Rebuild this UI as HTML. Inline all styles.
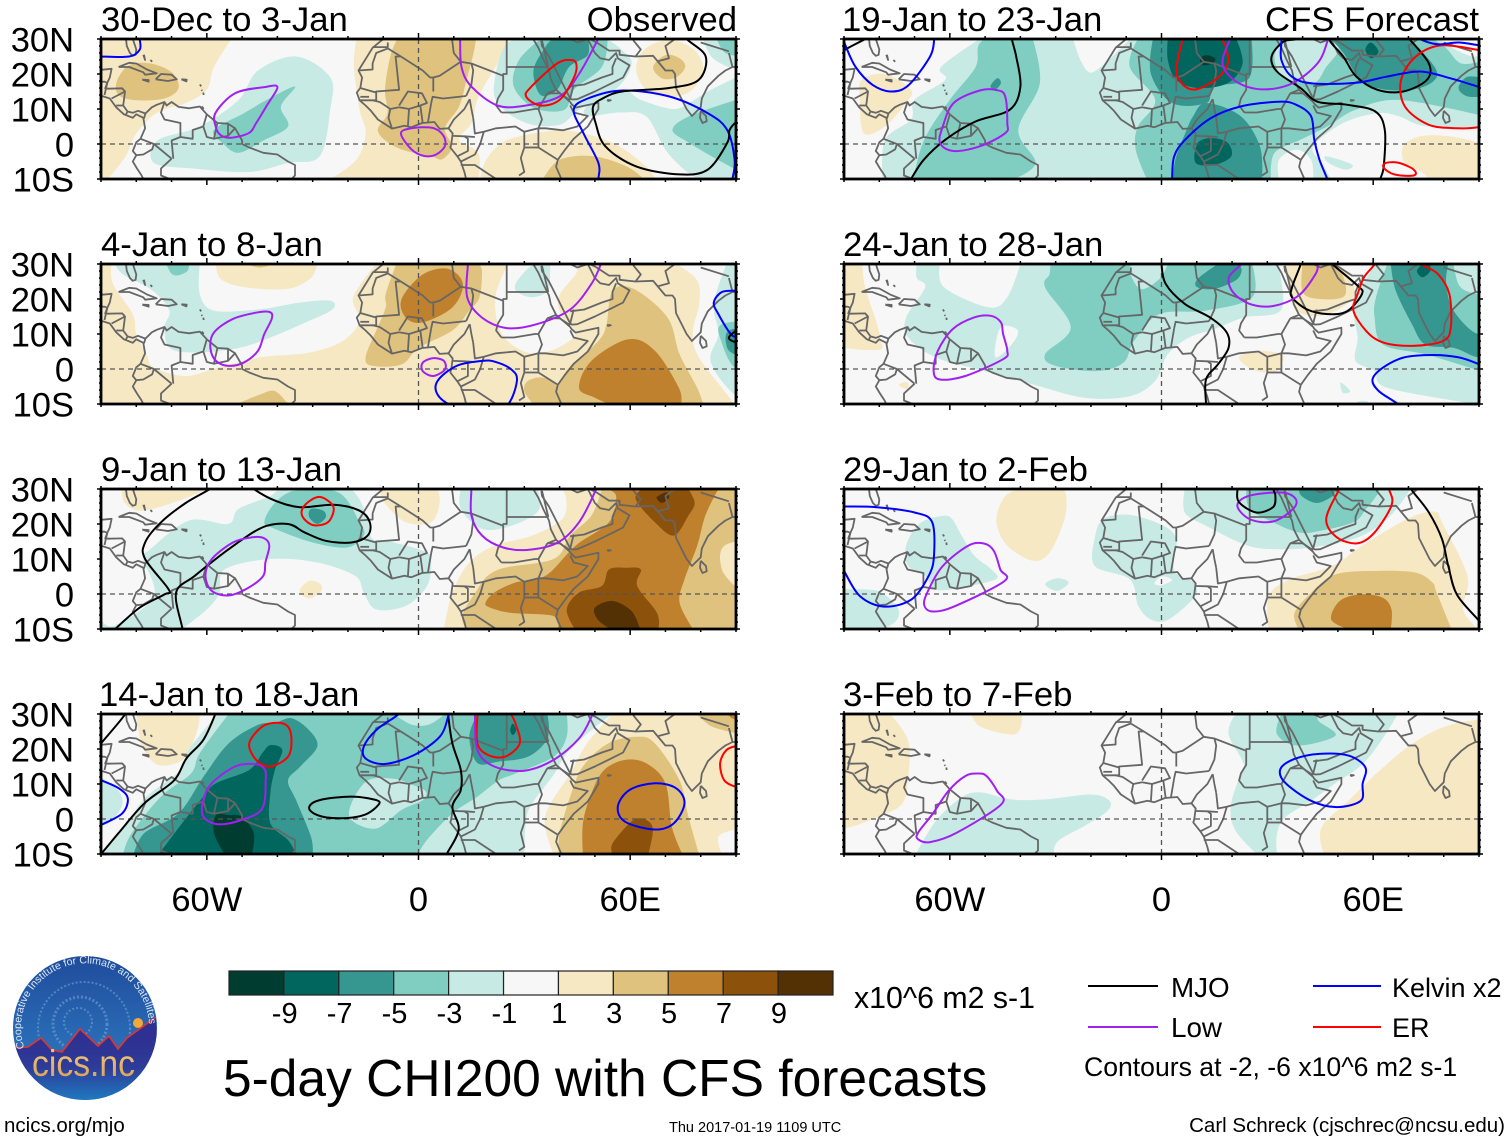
<!DOCTYPE html>
<html lang="en">
<head>
<meta charset="utf-8">
<title>5-day CHI200 with CFS forecasts</title>
<style>
html,body{margin:0;padding:0;background:#fff;}
svg{display:block;font-family:"Liberation Sans",sans-serif;}
text{fill:#000;}
</style>
</head>
<body>
<svg id="chart" xmlns="http://www.w3.org/2000/svg" width="1510" height="1142" viewBox="0 0 1510 1142">
  <defs>
    <linearGradient id="logoSky" x1="0" y1="0" x2="0" y2="1">
      <stop offset="0" stop-color="#1f4c9c"/><stop offset="0.6" stop-color="#2a6cb6"/><stop offset="1" stop-color="#1f7fc4"/>
    </linearGradient>
    <linearGradient id="logoLand" gradientUnits="userSpaceOnUse" x1="0" y1="1040" x2="0" y2="1100">
      <stop offset="0" stop-color="#2e3192"/><stop offset="0.45" stop-color="#2e3b98"/><stop offset="1" stop-color="#1f78bf"/>
    </linearGradient>
    <linearGradient id="logoText" x1="0" y1="0" x2="0" y2="1">
      <stop offset="0" stop-color="#f3d27e"/><stop offset="1" stop-color="#d99a55"/>
    </linearGradient>
    <clipPath id="logoClip"><circle cx="85" cy="1028" r="72"/></clipPath>
    <path id="logoArc" d="M 24.5 1048 A 64 64 0 1 1 149 1024"/>
  </defs>
  <rect x="0" y="0" width="1510" height="1142" fill="#fff"/>
  <g id="panels"></g>

  <g font-size="34.7">
    <text x="101" y="31">30-Dec to 3-Jan</text>
    <text x="737" y="31" text-anchor="end">Observed</text>
    <text x="101" y="256">4-Jan to 8-Jan</text>
    <text x="101" y="481">9-Jan to 13-Jan</text>
    <text x="99" y="706">14-Jan to 18-Jan</text>
    <text x="842" y="31">19-Jan to 23-Jan</text>
    <text x="1479" y="31" text-anchor="end">CFS Forecast</text>
    <text x="843" y="256">24-Jan to 28-Jan</text>
    <text x="843" y="481">29-Jan to 2-Feb</text>
    <text x="843" y="706">3-Feb to 7-Feb</text>
  </g>

  <g id="colorbar"></g>
  <text x="854" y="1008" font-size="30.3">x10^6 m2 s-1</text>

  <text x="223" y="1096" font-size="51.5">5-day CHI200 with CFS forecasts</text>

  <g font-size="27">
    <line x1="1088" x2="1158" y1="986" y2="986" stroke="#000" stroke-width="2"/>
    <text x="1171" y="997" font-size="27.8">MJO</text>
    <line x1="1088" x2="1158" y1="1027" y2="1027" stroke="#a020f0" stroke-width="2"/>
    <text x="1171" y="1037" font-size="27.8">Low</text>
    <line x1="1313" x2="1381" y1="986" y2="986" stroke="#0000ff" stroke-width="2"/>
    <text x="1392" y="997">Kelvin x2</text>
    <line x1="1313" x2="1381" y1="1027" y2="1027" stroke="#ff0000" stroke-width="2"/>
    <text x="1392" y="1037">ER</text>
    <text x="1084" y="1076" font-size="26.6">Contours at -2, -6 x10^6 m2 s-1</text>
  </g>

  <g>
    <circle cx="85" cy="1028" r="72" fill="url(#logoSky)"/>
    <g clip-path="url(#logoClip)">
      <g fill="none" stroke="#7ea6d8" stroke-opacity="0.55" stroke-dasharray="2 2">
        <circle cx="78" cy="1022" r="14" stroke-width="2"/>
        <circle cx="80" cy="1024" r="27" stroke-width="3"/>
        <circle cx="84" cy="1028" r="46" stroke-width="2"/>
      </g>
      <path d="M13 1048 L28 1047 L41 1038 L52 1050 L62 1052 L80 1029 L98 1046 L109 1036 L118 1049 L127 1038 L156 1017 L160 1110 L10 1110 Z" fill="url(#logoLand)"/>
      <path d="M13 1048 L28 1047 L41 1038 L52 1050 L62 1052 L80 1029 L98 1046 L109 1036 L118 1049 L127 1038 L156 1017" fill="none" stroke="#e2352b" stroke-width="1.6"/>
      <circle cx="138" cy="1023" r="5" fill="#f0a93a"/>
    </g>
    <text x="0" y="0" font-size="10.6" style="fill:#dbe6f5"><textPath href="#logoArc">Cooperative Institute for Climate and Satellites</textPath></text>
    <text x="32" y="1076" font-size="37" textLength="103" lengthAdjust="spacingAndGlyphs" style="fill:url(#logoText)">cics.nc</text>
  </g>

  <text x="4" y="1132" font-size="20.5">ncics.org/mjo</text>
  <text x="669" y="1132" font-size="14.5">Thu 2017-01-19 1109 UTC</text>
  <text x="1505" y="1132" font-size="20.5" text-anchor="end">Carl Schreck (cjschrec@ncsu.edu)</text>
</svg>

<script>
/* ---------- tick labels and colour-bar labels ---------- */
const latTicks = [30, 20, 10, 0, -10];
const latTickLabels = ['30N', '20N', '10N', '0', '10S'];
const lonTicks = [-60, 0, 60];
const lonTickLabels = ['60W', '0', '60E'];
const barLabels = ['-9', '-7', '-5', '-3', '-1', '1', '3', '5', '7', '9'];
const barLevels = [-10, -8, -6, -4, -2, 0, 2, 4, 6, 8, 10];

/* ---------- shaded CHI200 anomaly regions: [bin level, [lon,lat,...]] painted in order ---------- */
const fillsDec30 = [
  [2, [-52,35,-53,30,-58,22,-60,15.5,-66,11.7,-74,9,-80,3,-83,-3.5,-88,-10,-95,-15,-95,35]],
  [4, [-85.5,18,-82,22.5,-76,23,-70,20.5,-68,16,-72,13,-80,12.5,-85,14]],
  [-2, [-34.6,25,-25,19,-25,10,-28,-3.5,-37,-5.4,-48,-8,-64,-7,-75,-5.4,-74,1,-62,5,-51,12.6,-45.5,21]],
  [-4, [-35,16.4,-39,10.7,-37,5,-44,1,-51,-2.5,-55.6,.3,-58,4,-49.5,8.8,-43,12.6]],
  [2, [-17.6,30,-18.3,22,-16.7,9.8,-15,3,-17.6,-4.5,-25,-10,17,-10,17,-2.6,11.5,1.2,15,6,17,13.5,22.4,23,25.8,30]],
  [2, [22.4,-.7,27.8,2,41.4,3.9,55,.3,64.5,-6.4,67,-10,67,-15,17,-15,18.3,-6.4]],
  [4, [35.3,-10,40,-4.5,49.5,-3.5,59,-6.4,63.8,-10,60,-14,38,-14]],
  [4, [-6,30,-8,25,-9.5,15.5,-8.8,8.8,-11.5,3.6,-6,-1.1,3.4,-3.5,6.8,-4.3,9.5,-.7,7.5,4.5,11.5,10.7,13.6,18.3,15.6,25.9,16.3,30]],
  [2, [61.7,21,64,27,71,29.7,78,27,80.7,21,77,15,71,13.5,65,15]],
  [4, [66.5,22,70,25.4,74,24.5,75.6,22,73,19,69,18.8]],
  [-2, [25,28.7,21.7,19,22.4,11.7,30.5,6,40,5.5,45.5,9.8,56.3,16,60.4,23,57.7,26.8,53.6,30,31.9,30]],
  [-4, [34.6,30,28.5,24,27,16.4,33,10.2,41.4,9.8,44,15.5,52,22,53.6,30]],
  [-6, [36,27.8,32.6,21,34.6,14,39.3,15.5,42.7,22,48,25.4,48,30,38,30]],
  [-2, [48,11,57.7,15.5,63,12.6,72,10,76.7,11.7,82,15,90,19,95,20,95,-15,79.4,-10,75.3,-7.3,70,-1.6,64.5,7.9,57,9,48,8]],
  [-4, [72,4,76.7,7.9,90,12.6,95,12,95,-10,84.8,-4.5,76.7,.3]],
  [-2, [80,35,80.7,30,83,25,88,22,95,21,95,35]],
  [-4, [84,35,84.5,30,87,26,92,25,95,25,95,35]]
];
const fillsJan4 = [
  [2, [-100,40,100,40,100,-20,-100,-20]],
  [0, [-87,30,-86.6,24.3,-81,15.7,-80,10,-77,4,-75,.4,-66,-2,-57,.4,-45,3.3,-31,4.7,-21.5,8,-16.7,13.8,-18.5,20.5,-12,30,-50,33]],
  [2, [-57.4,30,-56,25.7,-49,23.3,-37,22.9,-30.5,26,-28.7,30,-43,32]],
  [-2, [-80,32,-62,30,-62,21.4,-58,16.7,-45.5,17,-33.5,19,-25,19.5,-24.4,17,-32,13.3,-42,9,-51,6,-63,4.7,-70.5,6,-72,12,-70.6,16.7,-75.4,22.4,-83.7,27,-86,30]],
  [-4, [-71.5,30,-70,27.2,-68,26.8,-65.5,28,-65,30,-68,31]],
  [4, [-6.3,30,-9.3,21.4,-9.3,17.6,-12,11,-15,3.3,-13,.9,-4.8,1.3,0,6,9.6,11,14.4,16.7,17.3,20.5,18,28,17,30,5,32]],
  [6, [1.2,27,-4.8,20,-3.6,14.7,1.2,13.3,9.6,17.6,12.6,24.3,8.4,28.6]],
  [0, [25.4,30,21.8,20.5,23.6,10,31,4.7,38.5,5.6,44.5,10,40.8,14.7,39.7,20.5,44.5,27,45.5,30,35,32]],
  [-2, [27.5,24.3,30,27.7,32.5,30,37.3,30,37.3,27,36.7,22.4,32.3,20.5,28,22]],
  [0, [73.1,30,79,25.3,79.6,18.6,77.8,11,79,4.2,86,-5.4,89.7,-10,97,-14,97,33,80,33]],
  [-2, [87.3,30,83.7,18.6,85,10,82.8,2.3,88.5,-6.3,97,-12,97,33]],
  [-4, [86,12.8,85.8,8,89.7,.4,97,0,97,14]],
  [-6, [88,11,87.5,6,90,4,97,5,97,12]],
  [4, [-49,30,-45,29,-41,30,-45,31]],
  [4, [-51.4,-10,-45,-7.3,-40.7,-6.3,-37,-10,-44,-12]],
  [4, [55,22.4,61,22.9,70.6,14.7,74,4.2,79,-5.4,80.7,-10,60,-14,39.7,-10,39.5,-5.4,42.7,.4,51,8,53.3,12.8]],
  [6, [59.5,8.5,49,2.3,45.5,-5.4,50,-8.2,54,-10,74.4,-10,73.8,-5.4,67,5.2]],
  [4, [31,-3.4,30,-6.3,32.5,-10,39.7,-10,40,-5.8,35.5,-2.5]]
];
const fillsJan9 = [
  [2, [-84,30,-83.3,26,-78,23.8,-67,27,-60,30,-72,33]],
  [-2, [-76,12.8,-65,21,-54,20,-51,24.3,-42,28,-40,30,-19,30,-16.7,27,-14.4,21.4,-13,15.7,-7,14.7,2.4,11.9,3.6,9,2.4,2.3,-3.6,-3.4,-12,-4.4,-15.5,.4,-18,5.2,-28.7,9,-42,10,-55,7,-56.4,.4,-60,-4.4,-67,-10,-90,-10,-90,-7.3,-86,-9,-75,-.6,-78,10]],
  [-4, [-43.7,20.5,-40.7,26,-34.7,29.6,-22.7,29,-16.7,20.5,-15.5,16.7,-20.3,13.3,-30,14.7,-40.7,18.6]],
  [-6, [-30.5,24.3,-31,22,-28.7,20,-26.3,21.9,-27,23.8]],
  [2, [-31,3.7,-33.7,.9,-31,-1.3,-27.5,.9,-28,3]],
  [2, [-10.8,30,-9.6,26,-3.6,20.5,3.6,20.5,6,26,5.4,30,-3,32]],
  [-2, [12,30,12,24.3,18,18.6,26.3,19.5,34,23.8,33.7,30,22,33]],
  [2, [7.2,-10,9.6,.4,14.4,9,21.5,13.8,32.3,16.7,40.7,21.4,41.9,27,40.7,30,60,36,97,36,97,-15,30,-15]],
  [4, [13,-9,16.7,1.3,22.7,7,38.3,10,43,16.7,49,22.4,52,30,70,36,97,36,97,-15,30,-15]],
  [2, [86.7,13.8,86,7,90,2,97,2,97,16]],
  [6, [19,-2.5,21.5,.4,27.5,3.3,36,5.2,44.5,13.8,54,20.5,56,28,53,30,70,33,85,30,81.3,22.4,79,13.8,75.4,4.2,74,-2.5,77.8,-10,60,-13,39.5,-10,38.3,-6.3,26.3,-5.4,20.3,-3.9]],
  [8, [59,7.5,54,7,52,2.3,45.5,.4,42,-4.4,44.3,-10,56,-13,68,-10,67.6,-5.4,62,2.3,63,7]],
  [8, [63.4,30,61.6,27,67,20.5,72.4,16.7,76.5,22.4,78.3,26,76.5,30,70,32]],
  [10, [55,-2,50,-3.9,50.8,-7.3,54.4,-10,62.8,-10,60.4,-4.9]],
  [10, [69,28.6,67.5,27.5,69,26,71,27.5,70.5,29]]
];
const fillsJan14 = [
  [2, [-80,30,-79.5,26,-78,20,-74,15.5,-68,16.2,-65,19.5,-62.5,26,-62,30,-70,33]],
  [-2, [-90,12,-85,8,-84,4,-87,-.5,-90,-2,-97,-2,-97,12]],
  [-2, [-57,35,-57,30,-65,20,-68,13.5,-77,6.5,-82,0,-90,-10,-95,-15,30,-15,30,-10,30.5,-.3,32.3,4.5,38.3,12.6,42,18.8,49,25.4,55,30,55,36]],
  [-4, [-53.8,30,-62,18.8,-64.5,13,-73,6.4,-81.3,-4,-83.7,-10,-50,-14,0,-10,2.4,-6,9.6,1.6,16.7,6.4,22.7,11,27.5,13,38.3,17.8,42,23.5,42,30,0,35]],
  [-2, [-14.4,11,-19,4.5,-19,-.3,-12,-2.7,-4.8,2.6,1.2,5.4,2,8,-2.4,10,-7,11.5]],
  [-2, [-7,30,-2,27,3,27,7.5,30,0,32]],
  [-6, [-40.5,27.5,-45.5,26.9,-53.8,21.6,-61,12,-68,1.6,-77.7,-4,-80.7,-10,-55,-14,-30,-10,-30.5,-5,-34.7,5.4,-37,11,-33.5,15,-28.7,20.7,-31,25.4,-36,28.8]],
  [-8, [-42,21.1,-44.3,18.8,-48,14,-57.4,10.2,-61,6.4,-67,-1.2,-73.6,-10,-55,-14,-34.7,-10,-37,-6,-42,-1.2,-42,7.3,-40.7,14,-38.6,19.7]],
  [-10, [-53.8,1.1,-57.4,1.1,-58,-4,-55,-10,-50,-13,-47.2,-10,-46.7,-4,-50.2,.7]],
  [-6, [16.7,30,14.4,23.5,16.7,16,22.7,16.4,31,17.8,36,22,37,26,36.5,30,26,33]],
  [-8, [26.7,27.3,26,25.4,26.7,24,27.7,25.4]],
  [2, [55,30,47.8,21.6,43,13,35.9,.7,38.3,-10,60,-15,86,-10,85,-5,90,-3,97,-3,97,36,60,36]],
  [4, [79,30,83,26.5,90,24.5,97,24,97,36,80,36]],
  [6, [87.5,31,88.5,29,92,27.7,97,28,97,33]],
  [4, [62,23.5,53.8,21.6,46.6,15,43,6.4,40,-4,39.7,-10,60,-14,79.5,-10,76.5,.7,74,11,67,21.6]],
  [6, [58.6,16.9,52.6,14,49,7.3,46.6,-1.2,46.6,-10,60,-13,74.8,-10,71.8,-2.2,70,10.2,64.6,15.9]],
  [8, [62.8,.2,59.8,-1.2,55,-7,55,-10,60,-12,65.2,-10,66.4,-4,65.8,-1.2]]
];
const fillsJan19 = [
  [-2, [-51.6,30,-62.5,22,-61.3,18.3,-70,12.6,-71,7,-78.4,1.2,-79,-10,-80,-16,97,-16,97,36,-50,36]],
  [0, [-25,30,-23,24,-20,20.4,-15,24,-9,30,-17,33]],
  [0, [61.2,8.8,51.5,6,43,-.7,45.5,-5.4,48,-10,70,-16,97,-14,97,5,75.7,5,67.3,7.9]],
  [-2, [46.7,-3.5,54,-5.9,52,-7.3,47.3,-5.4]],
  [0, [33.3,-4.5,38.2,-1.6,42.4,-4.5,43,-10,38,-13,33.3,-10]],
  [0, [38,25,36,21.5,42,21.5,44,24.5,41,26.5]],
  [0, [79.4,29.7,88,25,92,27,90,30,84,32]],
  [-4, [-51.6,28.7,-52.7,22,-60,12.6,-67.3,1.2,-70.3,-10,-55,-15,-41.8,-10,-35.7,-5.4,-40.6,4,-34.5,17.3,-36.5,30,-45,33]],
  [-4, [-6.7,30,-9,22,-1.8,12.6,-6.7,5,-7.3,-1.6,-4.2,-10,10,-15,31,-10,32,-2.6,39.4,1.2,47,5,55,9.8,67.3,12.6,90,8.3,97,8,97,22,92,24,85,23,80,28,72,33,40,34,10,34]],
  [-2, [34.5,30,32,25,34.5,19.3,43,17.4,46.7,22,50.3,27,47.9,30,40,33]],
  [-6, [-2.4,30,-3,20,3,11.7,12.7,11.7,15,16.4,24.8,18.8,25.5,30,10,33]],
  [-6, [12.7,11.7,22.4,8,27.9,-.7,28.5,-10,15,-14,3,-10,4.2,-3.5,6.7,3,9,8]],
  [-8, [1.8,30,1.8,24,4.2,18.3,10.3,16,18.8,17.4,23,23,21.2,30,10,33]],
  [-10, [11,24.5,12.7,25.4,15.2,24.5,14.5,23,11.6,22.6]],
  [-8, [14.5,1.7,10.3,.3,9.7,-5.4,15.2,-5.9,19.8,-3.5,18.8,.3]],
  [-6, [47.9,30,51.6,26,56.4,18.3,63.6,15.5,73.3,16,78.2,20,73.3,27,69.7,30,58,33]],
  [-8, [59.4,29,57.8,27,59.4,24.5,61.5,26.4]],
  [-6, [86.7,19.2,84.2,16,86.7,13.6,91.5,13.6,91.5,18.8]],
  [-6, [-46.6,18.8,-48.5,16.5,-47,15.6,-45.5,17.5]],
  [2, [-85,18.3,-78.4,20,-71,15.5,-72.5,11.7,-78.4,5,-84.4,3.1,-85.5,12.6]],
  [2, [68.5,-.7,73.3,2.2,81.8,2.2,90.3,.3,97,0,97,-15,80,-14,74,-8.2,69,-5.4]]
];
const fillsJan24 = [
  [2, [-97,36,-84.8,36,-84.8,30,-84,23.3,-81,14,-79.5,8,-79.5,5.6,-85,5.5,-90,6,-97,6]],
  [-2, [-69.4,30,-69.4,26,-67,23.3,-72.4,14.7,-71.8,9,-64,3.3,-52,-.1,-36.5,-4.4,-22,-8.2,-9,-7.8,-1.8,-3.4,1.8,4.2,7.8,9,15,11.4,23.3,14.7,34,17,33,30,0,34,-40,34]],
  [0, [-62.8,30,-61.6,23.3,-49,17.6,-43.7,20.5,-40,30,-50,33]],
  [0, [-44.9,12.3,-46.7,9,-47,3.3,-42.5,7,-40.7,11]],
  [-4, [-31.7,27.2,-33,23.3,-25.7,11.9,-33,4.2,-30,.9,-18.5,-.6,-10.8,1.8,-7.8,8,-.6,15.7,12.6,16.7,25.7,20.5,25.7,30,0,34,-31.5,32]],
  [-2, [-9,29,-6,22.9,-.6,25.7,1.8,30,-4,32]],
  [-6, [10.2,25.7,10.2,23.3,15,22.9,21,25.3,22.7,28,22,30,16,30]],
  [2, [35.3,30,36.5,20.5,40,15.7,47.2,15.7,54.4,20.5,53,27,47.2,30,40,33]],
  [2, [22,3.3,27,5.2,34,4.2,34,1.3,31.7,-1,25.7,-.1]],
  [4, [40,30,40,22,44.9,20,52,21,50.8,28,47,30,43,32]],
  [2, [-74.5,-4.5,-72,-3.8,-72,-5.8]],
  [-2, [60.4,30,56.8,23.3,54.4,16.7,55.6,9,55,2.3,60.4,-.6,64,-5.4,89,-10,97,-11,97,36,60,36]],
  [-4, [64,30,60.8,20.5,60.4,14.7,62.8,7,74.8,4.2,89,-.1,97,-2,97,36,64,36]],
  [-2, [82,36,84.3,24,90.3,21.4,97,21,97,36]],
  [-6, [65,30,66.4,22.4,71,12.8,74.8,7,83,6,89.7,3.3,97,3,97,12,89.7,10,82.8,16.7,80.7,24.3,81.3,30,72,33]],
  [-8, [74,30,72.4,28,74,26.2,76.2,28,76,30,75,31]],
  [-2, [50.8,-3.9,53.5,-6.3,51.4,-6.8]],
  [-2, [55.5,-9.3,58.5,-9.3,57,-11]]
];
const fillsJan29 = [
  [2, [-41.6,29.6,-45,27,-46.8,20.5,-43.7,13.8,-36.5,9.5,-31.7,11.9,-27.5,21.4,-27,28,-28,30,-35,32]],
  [-2, [-62.8,22.2,-68.7,20,-72.4,13.8,-71.8,8,-67,5.2,-64.2,1.3,-57,1.8,-47,4.2,-48.2,7,-53,10.9,-56.6,16.6,-59.6,21.7]],
  [-2, [-97,1.3,-83.4,1.3,-78.6,-.1,-74.4,-4.9,-77.4,-9.2,-90,-12,-97,-12]],
  [-2, [-33,2.8,-29.5,4.5,-26.3,3.3,-29.5,.9]],
  [-2, [-18.9,16,-16.5,21.4,-9,22.6,.6,19.5,4.2,15.7,3.5,10,4,6,9,3.3,9.5,-.6,2,-7.3,-3,-7.3,-6.6,-3.4,-9,4.2,-18.9,8]],
  [0, [0,5,-2,3,0,2.5,3,4]],
  [-2, [6.6,30,6.6,23.3,12.6,19.5,24.5,13.8,34,12.8,42.4,13.3,54.4,15.7,63,20.5,70,29,70,32,30,33]],
  [-4, [24,30,25,24.3,31.6,20.5,38.8,17.6,44.8,18,54.4,20.5,58,24.3,61.5,29,61,31,40,33]],
  [-6, [39,30,39.7,28,44,26,48.5,28,49,30,44,32]],
  [2, [74.8,23.3,68.8,21,56.8,13.8,48.4,8,36.4,4.2,30.4,-.6,30.4,-10,60,-15,89.7,-10,85.5,-4.4,86.7,5.2,79.5,20.5,78.3,23.3]],
  [4, [61.5,6.6,49.3,5.6,42.5,.4,37.7,-5.4,38.9,-10,60,-14,82.2,-10,78,.4,76.8,3.3,72,6.1]],
  [6, [56.5,-.1,50.5,-2,48.1,-7.3,52.9,-10,60,-12,65,-10,65.2,-4.4,62.6,-1]]
];
const fillsFeb3 = [
  [2, [-97,36,-77,36,-77,30,-71.8,22.4,-71.8,11.9,-73.6,4.2,-81,.4,-89,-2.5,-97,-3]],
  [2, [-54,30,-51,26.2,-41.3,24.3,-39.5,30,-46,33]],
  [-2, [-51.4,7.6,-56.8,6.1,-64,-.6,-69.6,-10,-50,-15,-30.5,-10,-29.3,-6.3,-21,-1.5,-15.3,2.3,-14.7,5.2,-20,7,-33,5.6,-42.6,5.6]],
  [-2, [21,30,19,24.3,23.3,15.7,22,11.9,19.6,3.3,21,-3.4,27,-10,30,-13,32.7,-10,32.7,-4.4,35,.4,42.4,5.2,49,10,58,16.7,66.4,29,66.4,32,40,33]],
  [-4, [34,30,32.7,24.3,38.5,21,49.3,23.8,44.5,28,44.5,30,39,32]],
  [2, [83,27.2,72.4,22.4,62.8,14.7,53,5.2,45.3,-2.5,46,-10,60,-15,97,-15,97,29]]
];

/* ---------- wave contours: [kind, closed, [lon,lat,...]] ---------- */
const linesDec30 = [
  ['low', 1, [-40,16.3,-44,16.2,-52,14.5,-57.5,9,-57.5,5,-56,2.5,-53,1.8,-48,3.2,-46,6,-43,11]],
  ['low', 1, [-5,3,-2,4.5,4,4.6,7,2.5,7.5,-.5,5,-3,1.5,-3.4,-2,-1.5]],
  ['low', 0, [11.8,33,11.8,30,12.2,22,15,16.4,22.4,11,30.5,11,40,13.6,45.5,20,50.9,30,52,33]],
  ['er', 1, [43.4,24,39.3,23,32,16.4,30.5,13.6,34.6,11,40,12.6,44,18.8,44.8,22.6]],
  ['kelvin', 0, [-93,25.3,-90,25,-82,25,-79,27,-79,30,-79,33]],
  ['kelvin', 0, [51,-13,51,-10,51,-5.4,46.8,3,44,9.8,48,13,57.7,15.3,71,13.6,82,8.8,87.5,4,89.6,-4.5,89,-10,88.5,-13]],
  ['mjo', 0, [74,33,76,30,81.4,25,79.4,18.3,71,16,57.7,15,52.2,13,49.5,10.7,50.2,6,53,-.7,61.7,-6.4,74,-8.7,82,-7.3,87.5,.3,88.2,4,90.2,6.4,93,8]]
];
const linesJan4 = [
  ['low', 1, [-42,16.2,-45.5,16.2,-52.6,14.3,-58,10.4,-59,6,-57.4,2.3,-53.8,.9,-49.6,1.8,-45.5,5.2,-43.7,10,-41.6,14.3]],
  ['low', 1, [4.2,3.1,1.2,1.8,1.2,-.6,4.2,-2,7.5,-.1,7.2,2.3]],
  ['low', 0, [14,33,14,30,13.8,20.5,18,14.7,25,11.7,33.5,12.8,43,17,49,24.3,51.7,30,52.5,33]],
  ['kelvin', 1, [18,2.3,10.8,.9,5.4,-3.4,5.4,-7.3,9.6,-10.5,18,-12.5,25,-10.5,27.9,-3.4,26.3,-.1,21.5,2.1]],
  ['kelvin', 0, [93,22.6,90.3,22.4,86,22,83.7,19,85,15.7,88.5,10,90.3,9,93,7]],
  ['mjo', 1, [90.5,11,88,9,89.7,7.8,92,9]]
];
const linesJan9 = [
  ['mjo', 0, [-88,-12,-86,-10,-79,-3.9,-72,-.1,-70.8,1.3,-77.5,10,-77.5,14.7,-73,20.5,-66,26,-59.2,30,-56,33]],
  ['mjo', 0, [-66.9,-13,-66.9,-10,-68.7,.4,-63.4,5.2,-53.8,12.8,-44.3,19,-37,20,-32.3,17.6,-26.3,15.2,-19,14.7,-14.4,16.7,-13.8,20.5,-16.7,23.8,-24,25.5,-33.5,24.8,-40.7,26.7,-46.7,30,-50,33]],
  ['er', 1, [-28.7,27.7,-32.3,25.3,-33,22.4,-30,19.7,-25.7,20.5,-24,24.3,-25.7,26.7]],
  ['low', 1, [-43.7,15.9,-47.2,16.2,-52.6,14.7,-58.6,10,-60.4,5.2,-58.6,.9,-53.8,-.4,-48.2,1.8,-44,5.2,-43.4,9,-42.3,13.7]],
  ['low', 0, [15,33,15,30,15,22.4,18,16.7,24,13.3,31,12.6,39.5,14.7,45.5,20.5,50.2,29.6,51,33]]
];
const linesJan14 = [
  ['mjo', 0, [-92,-12,-90,-10,-85,-4,-77.7,4.5,-69.3,11,-65.8,17.3,-61,22.6,-57.6,30,-57,33]],
  ['mjo', 0, [-93,18,-90,21.6,-84,28.8,-82,32]],
  ['mjo', 1, [-31,3.3,-28,5.4,-19,6.4,-12,5.4,-11.4,4,-15.5,1.1,-22.7,.2,-28.7,1.1]],
  ['mjo', 0, [8.4,33,8.4,30,9.6,21.6,12,14,12,8.3,9.6,3.5,11.4,-3,8,-10,6.5,-13]],
  ['er', 1, [-40,27.5,-44.3,26.4,-48,21.6,-46,16.9,-42,15,-37,17.8,-36,22.6,-37,26.4]],
  ['er', 0, [16.7,33,16.7,30,16.7,21.6,19.7,18.3,24.5,17.8,28.7,21.6,27.5,27.3,26.3,30,26,33]],
  ['er', 0, [93,22,90.5,21,87.3,19.7,85.5,15.9,86.7,11,90.3,9,93,8]],
  ['low', 1, [-46.4,15.7,-52,15,-58.6,10.2,-61,5.4,-61,.7,-56.8,-1.5,-50.2,-.3,-44.3,3,-43.3,11,-43.7,14.4]],
  ['low', 0, [16,33,16,30,16.7,19.7,21.5,15,30,13.8,38.3,16.9,45.5,23,49,29.2,50,33]],
  ['kelvin', 0, [-93,12.5,-90,11.1,-85,8.8,-82.4,5.9,-84,1.6,-90,-1.7,-93,-3]],
  ['kelvin', 0, [-3,32,-6.6,29.2,-12,25.4,-15.5,20.7,-15,17.3,-9.6,15.7,-1.2,18.3,6,23.5,8.4,29.2,9,32]],
  ['kelvin', 1, [67,10.2,59.8,8.3,56.5,3.5,58.6,-.8,67,-3,72.4,-1.2,75.4,4.5,73,8.8]]
];
const linesJan19 = [
  ['mjo', 0, [-42.4,33,-42.4,30,-41.2,25,-40,16.4,-43,9.8,-52.8,6.4,-61.3,1.2,-67.4,-4.5,-71,-10,-73,-13]],
  ['mjo', 0, [-92,25,-89.6,27,-84,30,-81,32]],
  ['mjo', 0, [46,33,47.9,29.2,51.5,25,55.2,19.3,61.2,15.5,68.5,15,75.2,18.3,75.8,23,70.3,30,68,33]],
  ['mjo', 0, [42,32,38.2,30,34.5,29.2,31.2,25,32.7,20.7,39.4,16,44.2,12.1,52.7,11.2,60.6,9.3,63.3,4,63,-6.3,62,-10,61,-13]],
  ['er', 0, [6.5,33,6,30,4.8,25,4.2,20.2,6.7,16.4,10.3,15.7,15.8,18.8,18.8,23,18.2,27.8,17,30,16.5,33]],
  ['er', 0, [93,26.5,90.3,26.8,79.4,28.2,72.1,25,67.9,18.3,69,10.7,75.8,5.5,84.2,4.5,90.3,4.8,93,5]],
  ['er', 1, [63.6,-5.4,63,-6.8,66,-8.7,71.5,-9,71.5,-7.3,67.3,-5.4]],
  ['low', 1, [-46.7,15.4,-51.5,15.3,-58.9,11.7,-62,5,-62.8,.3,-59,-2,-51.6,-.7,-44.3,3.1,-43.7,6,-44.3,13.6]],
  ['low', 0, [20,33,19.4,30,17.3,23,21.2,17.8,28.5,15.6,37,17.3,44.2,23,47,29.2,48,33]],
  ['kelvin', 0, [-91,32,-89.6,28.2,-86.7,22,-81.9,16.9,-76.5,15,-71.6,16.9,-65.6,25,-64.4,30,-64,33]],
  ['kelvin', 0, [34.5,33,34,29,34,24,37,19.2,43,17.3,55.2,17.5,63.6,19.2,73.3,20.7,81.8,18.8,90.3,16.2,93,15.5]],
  ['kelvin', 0, [3,-13,3,-10,3.6,-3.5,6.7,1.2,14,7.4,22.4,10.7,33.3,12.1,38.2,11.2,42.4,7.9,43.3,1.2,44.8,-4.5,47,-10,48,-13]],
  ['kelvin', 0, [72,32,73.3,30,78.2,28.5,84.2,29,90,28.2,93,28]]
];
const linesJan24 = [
  ['mjo', 0, [0,33,0,30,1.2,24.3,6.6,18.6,13.8,14.7,18.5,10.4,19,6,16,1.3,12.6,-3,12.6,-10,12.6,-13]],
  ['mjo', 0, [40,33,39.5,30,37,23.3,37,20.5,41.3,17,47.2,15.7,52.6,16.5,56.8,21.4,55.6,23.8,48.4,30,46,33]],
  ['er', 0, [62,33,60.4,29.9,57.4,26.2,55.6,21.4,54.4,16.7,58,10.9,62.8,7.6,71.2,6.6,79.8,8,82,11.9,81.6,21.4,78.3,27.2,73.6,30,71,33]],
  ['low', 1, [-48.4,15.2,-53.2,14.7,-59.2,11.4,-63.4,5.2,-64.6,-.6,-62.8,-3,-55.6,-2,-44.9,2.8,-43.7,5.2,-44.9,10,-45.5,13.3]],
  ['low', 0, [25,33,22.7,30,19.1,26.2,20.3,21.9,25,18.6,31.7,18,38.9,21,43.7,27.2,44.3,30,44.5,33]],
  ['kelvin', 0, [70,-13,67,-10,61.6,-6.3,59.8,-3,62.8,.4,68.8,3.3,77.2,4,84.3,3.3,89.7,1.5,93,0]]
];
const linesJan29 = [
  ['kelvin', 0, [-93,25,-89.7,25,-80.7,24.8,-70,23.3,-65,20.5,-64.5,10.9,-66,5.2,-70.8,-1.5,-78.6,-3.6,-85.5,-.6,-90,6.6,-92,10]],
  ['low', 1, [-50.2,14.4,-54.8,13.8,-62,8,-66,1.3,-67.3,-3,-64.8,-5,-58.4,-3.4,-44.5,3.7,-45.7,7,-47.5,12.3]],
  ['low', 1, [34,29,25,28.1,21.5,25.3,25,21.4,31.6,20.7,37.3,24.3,38,27.2]],
  ['mjo', 0, [21.5,33,21.5,30,22,26.2,26.9,23.3,31.6,24.8,32.3,28,31.7,30,31.5,33]],
  ['er', 0, [52,33,50.2,29.6,46.7,21.4,49.7,16.2,55.6,14.5,60.4,17.6,65.2,25.3,64.6,29.6,63,33]],
  ['mjo', 0, [69,33,71,29.6,75.8,23.3,79.5,15.7,81.3,8,83.7,-.1,89.7,-7.3,93,-11]]
];
const linesFeb3 = [
  ['low', 1, [-52,13,-55.6,12.3,-60.4,8,-65,1.3,-69,-3.9,-69,-5.8,-65.6,-6.6,-58,-3.9,-45.4,4.2,-46.6,8,-49.6,12.3]],
  ['kelvin', 1, [44.7,18.6,37.6,17.1,33.7,14.3,35,10.4,42.4,5.2,49.6,3.4,56.5,5.2,57,10,57.8,14.7,53,18.1]]
];

/* ---------- shared base map: coast and border polylines in lon,lat ---------- */
const coastlines = [
  [-82.9,30,-82.7,28,-81.8,26,-81,25.2,-80.2,25.5,-80,27,-81,30],
  [-90,21.2,-87,21.5,-87.5,19,-88.2,17.5,-88.8,15.9,-88,15.8,-84,15.9,-83.2,15,-83.5,12.5,-83.7,11,-82.5,9.3,-81,8.9,-79.5,9.5,-77.4,8.7,-75.6,10.5,-74.2,11.2,-72,12,-71.4,11,-70,12,-68,10.6,-65,10.2,-62,10.7,-60,8.5,-57,6,-54,5.8,-52,4.5,-50,1,-50,0,-48,-1,-44,-2.5,-40,-3,-37,-5,-35,-6,-35,-9,-36,-10],
  [-90,13.8,-87.5,13,-85.7,10.5,-83.5,8.5,-81,7.5,-80,8.5,-78,7.5,-77.5,4.5,-78.8,1.5,-80,.5,-81,-2,-80,-3.2,-81,-5,-79.8,-7,-78.5,-9,-78,-10],
  [-85,22,-82,23.2,-80,23,-77,21.3,-74.2,20.2,-77.5,19.8,-78,20.5,-82,22,-85,22],
  [-74.5,18.5,-73,20,-70,19.8,-68.5,18.5,-71,18,-74.5,18.5],
  [-78.3,18.4,-76.5,18.3,-76.5,17.8,-78.3,18.4],
  [-67.2,18.5,-65.7,18.4,-65.8,17.9,-67.2,18.5],
  [-78,25.5,-77.5,24,-77.8,25.5],[-76,24,-75.5,23.5],[-62,17,-61.6,16.5],[-61,14.7,-60.9,14],[-61.5,15.5,-61.3,15.2],[-61.5,10.7,-61,10.2,-61.3,10.6],
  [-10,30,-13,27.5,-17,21,-16,19,-16.5,16,-17.5,14.7,-16.7,12.5,-15,11,-13.5,9.5,-11.5,7,-7.5,4.4,-4,5.2,-2,4.8,1,6,4.5,6.3,6,4.3,8.5,4.5,9.7,3,9.3,0,9,-1,11,-3.5,12,-5,13,-8,13.5,-10],
  [32.5,30,34,27.5,35.5,24,37,21,37.5,18.5,39,15.5,43,12,43.3,11.5,44.5,10.4,51,11.8,51,10,48,5,44,1.5,41.5,-1.7,39.5,-4.5,39,-6.5,40.5,-10],
  [34.8,29.5,35,28,37,25,39,21,41,17,43,13,43.5,12.7,45,12.8,50,15,55,17.5,58,19,59.8,22.5,56.5,24.5,56,26,54,24,51.5,24.5,50,26,48,30],
  [48.5,30,50.5,29,54,26.7,57,26.7,57,25.5,61.5,25,66.5,25.2,67.5,24,70,21,72,21,72.7,20,73,16,74.5,13,76,10,77.5,8,78.5,9,80,10.5,80.3,13,82,16.5,85,19.5,87,21,89,22,90,22],
  [80,9.5,81.5,8,81.7,6.5,80.5,6,79.8,7.5,80,9.5],
  [53.5,12.6,54.5,12.5,53.8,12.3,53.5,12.6]
];
const borderlines = [
  [-72,12,-73,9,-72,7,-67.5,6,-67.5,2,-70,1,-69.5,-4.2],
  [-60,8.5,-61,5,-64,4,-64,1.5,-67.5,2],
  [-57,6,-58,1.5],[-61,5,-60,2,-58,1.5,-54,2.3,-52,4.5],[-54,5.8,-54,2.3],
  [-78.8,1.5,-75,0,-75.5,-1.5,-78,-3,-80,-3.2],[-75,0,-70,-4.2],[-70,-4.2,-73,-7,-73,-9,-70.5,-10],
  [-88.2,17.5,-89,14],[-90,17.8,-89,17.8,-88.2,17.5],[-83.2,15,-87,13],[-83.7,11,-85.7,11],[-82.5,9.3,-83,8.3],[-77.4,8.7,-77.8,7.3],
  [-13,27.7,-8.7,27.7,-8.7,29],[-17,21,-13,21.3,-13,23,-12,26,-8.7,27.3,-5,25],
  [-5,25,-6.5,25,-5.5,15.5,-12,15,-12.3,14.8,-16.5,16],[-5,25,1.2,21,3.3,19,4.2,19,4.2,15],
  [4.2,19,6,19.5,12,23.5,15,23,15.5,21,15,17,13.5,13.7],[25,30,25,22],[25,22,36.8,22],[25,22,25,20,24,20,24,19.5],[15,23,24,19.5],
  [24,19.5,24,15.5,22.5,13,22,11,23.5,9],[9.5,30,10,26,12,23.5],
  [3.6,11.7,4,13.5,7,13,13.5,13.7],[2.7,6.3,3.6,11.7],[8.5,4.5,10,7,13,10,14.5,12.8],[14.5,12.8,15,10,15.5,7.5],
  [15.5,7.5,16,3,18.5,3.5,22,4.5,27.5,5,30,3.5],[1.2,6,.5,11],[-3,5,-2.7,10],[-5.5,10.5,-2.7,10,.5,11,2.4,11.7,1,14.5,-3,15,-5.5,11],
  [-7.5,4.4,-8.5,7.5,-8,10],[-13,12.5,-11,12,-8,10,-5.5,10.5],[-16.7,12.5,-12,12.5,-12,15],[-16.5,13.5,-14,13.5],
  [23.5,9,27,9,33,10,34,10],[36.5,14.5,34,10],[39,15.5,36.5,14.5],[36.5,14.5,40,14.5,43,12.5],
  [34,4.5,36,4.5,41,3.9,45,5,48,8,44,9,43,11],[34,4.5,34,0,34,-1,39.5,-4.5],[30,-1,34,-1],[30,3.5,30,-1,29,-4,30,-8,28.5,-9],[34,10,35,7,34,4.5],[30,3.5,34,4.5],
  [12,-5,13,-4.5,16,-3,17.5,0,18.5,3.5],[9.8,2.3,13,2.2,14,1.5,14,-2,11,-3.5],[16,2,13,2.2],[12,-6,16,-6,22,-10],
  [40.5,-10.5,35,-11],[43,16.5,47,17,52,19,55,20,55,22,56,24.5],[48,30,45,29,41,31],[61.5,25,63,27,61,29.5,60.5,31],[68,23.7,71,24.5,70,28,74,31],[80,29,88,26.5],[88,26,89,22],
  [36.8,22,35,29.5],[43,13,44,17]
];

/* ---------- axis functions ---------- */
const PANEL_W = 635, PANEL_H = 140;
const colLeft = [101, 844];
const rowTop = [39, 264, 489, 714];
function xAxis(col, lon) { return colLeft[col] + (lon + 90) * PANEL_W / 180; }
function yAxis(row, lat) { return rowTop[row] + (30 - lat) * PANEL_H / 40; }

function binColor(level) {
  const ramp = {'-10':'#003c30','-8':'#01665e','-6':'#35978f','-4':'#80cdc1','-2':'#c7eae5','0':'#f7f7f7','2':'#f6e8c3','4':'#dfc27d','6':'#bf812d','8':'#8c510a','10':'#543005'};
  return ramp[String(level)];
}
function lineColor(kind) {
  return {mjo:'#000000', low:'#a020f0', kelvin:'#0000ff', er:'#ff0000'}[kind];
}
const NS = 'http://www.w3.org/2000/svg';
function make(tag, attrs, parent) {
  const el = document.createElementNS(NS, tag);
  for (const k in attrs) el.setAttribute(k, attrs[k]);
  parent.appendChild(el);
  return el;
}
function project(flat, col, row) {
  const pts = [];
  for (let i = 0; i + 1 < flat.length; i += 2) pts.push([xAxis(col, flat[i]), yAxis(row, flat[i + 1])]);
  return pts;
}
/* A fill vertex on or beyond the panel edge gets no tangent, so regions meet the frame without cutting corners. */
function splinePath(pts, closed, box) {
  const n = pts.length;
  const at = i => closed ? pts[(i + n) % n] : pts[Math.max(0, Math.min(n - 1, i))];
  const pinned = p => box && (p[0] <= box[0] + 0.5 || p[0] >= box[2] - 0.5 || p[1] <= box[1] + 0.5 || p[1] >= box[3] - 0.5);
  let d = 'M' + pts[0][0].toFixed(1) + ' ' + pts[0][1].toFixed(1);
  const last = closed ? n : n - 1;
  for (let i = 0; i < last; i++) {
    const p0 = at(i - 1), p1 = at(i), p2 = at(i + 1), p3 = at(i + 2);
    const c1 = pinned(p1) ? p1 : [p1[0] + (p2[0] - p0[0]) / 6, p1[1] + (p2[1] - p0[1]) / 6];
    const c2 = pinned(p2) ? p2 : [p2[0] - (p3[0] - p1[0]) / 6, p2[1] - (p3[1] - p1[1]) / 6];
    d += 'C' + c1[0].toFixed(1) + ' ' + c1[1].toFixed(1) + ' ' +
         c2[0].toFixed(1) + ' ' + c2[1].toFixed(1) + ' ' +
         p2[0].toFixed(1) + ' ' + p2[1].toFixed(1);
  }
  return closed ? d + 'Z' : d;
}
function polyPath(pts) {
  return pts.map((p, i) => (i ? 'L' : 'M') + p[0].toFixed(1) + ' ' + p[1].toFixed(1)).join('');
}

const panelDefs = [
  ['dec30', 0, 0, fillsDec30, linesDec30],
  ['jan4', 0, 1, fillsJan4, linesJan4],
  ['jan9', 0, 2, fillsJan9, linesJan9],
  ['jan14', 0, 3, fillsJan14, linesJan14],
  ['jan19', 1, 0, fillsJan19, linesJan19],
  ['jan24', 1, 1, fillsJan24, linesJan24],
  ['jan29', 1, 2, fillsJan29, linesJan29],
  ['feb3', 1, 3, fillsFeb3, linesFeb3]
];

const panelsRoot = document.getElementById('panels');
const svgDefs = document.querySelector('defs');

panelDefs.forEach(function (def) {
  const id = def[0], col = def[1], row = def[2], fills = def[3], lines = def[4];
  const left = colLeft[col], top = rowTop[row];
  const box = [left, top, left + PANEL_W, top + PANEL_H];

  const clip = make('clipPath', {id: 'clip-' + id}, svgDefs);
  make('rect', {x: left, y: top, width: PANEL_W, height: PANEL_H}, clip);

  const g = make('g', {}, panelsRoot);
  
  

  const inner = make('g', {'clip-path': 'url(#clip-' + id + ')'}, g);

  const bg = make('rect', {x: left, y: top, width: PANEL_W, height: PANEL_H, fill: binColor(0)}, inner);
  
  

  fills.forEach(function (f) {
    const region = make('path', {d: splinePath(project(f[1], col, row), true, box), fill: binColor(f[0])}, inner);
    
    
  });

  const map = make('g', {fill: 'none', stroke: '#666', 'stroke-width': 1.8, 'stroke-linejoin': 'round'}, inner);
  
  
  coastlines.concat(borderlines).forEach(function (c) {
    const seg = make('path', {d: polyPath(project(c, col, row))}, map);
    
    
  });

  const eq = make('line', {x1: left, x2: left + PANEL_W, y1: yAxis(row, 0), y2: yAxis(row, 0), stroke: '#555', 'stroke-width': 1.3, 'stroke-dasharray': '5 4'}, inner);
  
  
  const pm = make('line', {x1: xAxis(col, 0), x2: xAxis(col, 0), y1: top, y2: top + PANEL_H, stroke: '#555', 'stroke-width': 1.3, 'stroke-dasharray': '5 4'}, inner);
  
  

  lines.forEach(function (l) {
    const contour = make('path', {d: splinePath(project(l[2], col, row), !!l[1]), fill: 'none', stroke: lineColor(l[0]), 'stroke-width': 2}, inner);
    
    
  });

  const frame = make('rect', {x: left, y: top, width: PANEL_W, height: PANEL_H, fill: 'none', stroke: '#000', 'stroke-width': 2.8}, g);
  
  

  const ticks = make('g', {stroke: '#000', 'stroke-width': 1.5}, g);
  
  
  for (let lon = -90; lon <= 90; lon += 10) {
    const major = lonTicks.indexOf(lon) >= 0;
    const len = major ? 6 : 3;
    const x = xAxis(col, lon);
    const a = make('line', {x1: x, x2: x, y1: top - len, y2: top}, ticks);
    
    
    const b = make('line', {x1: x, x2: x, y1: top + PANEL_H, y2: top + PANEL_H + len}, ticks);
    
    
  }
  for (let lat = -10; lat <= 30; lat += 2) {
    const len = lat % 10 === 0 ? 4 : 2;
    const y = yAxis(row, lat);
    const a = make('line', {x1: left - len, x2: left, y1: y, y2: y}, ticks);
    
    
    const b = make('line', {x1: left + PANEL_W, x2: left + PANEL_W + len, y1: y, y2: y}, ticks);
    
    
  }

  if (col === 0) {
    latTicks.forEach(function (lat, i) {
      const t = make('text', {x: 74, y: yAxis(row, lat) + 12.5, 'font-size': 34.5, 'text-anchor': 'end'}, g);
      
      
      t.textContent = latTickLabels[i];
    });
  }
  if (row === 3) {
    lonTicks.forEach(function (lon, i) {
      const t = make('text', {x: xAxis(col, lon), y: 911, 'font-size': 34.5, 'text-anchor': 'middle'}, g);
      
      
      t.textContent = lonTickLabels[i];
    });
  }
});

/* ---------- colour bar ---------- */
const barRoot = document.getElementById('colorbar');
const BAR_X = 229, BAR_Y = 971, BAR_W = 604, BAR_H = 24;
const boxW = BAR_W / barLevels.length;
barLevels.forEach(function (lv, i) {
  const box = make('rect', {x: BAR_X + i * boxW, y: BAR_Y, width: boxW, height: BAR_H, fill: binColor(lv), stroke: '#222', 'stroke-width': 1.2}, barRoot);
  
  
});
barLabels.forEach(function (s, i) {
  const t = make('text', {x: BAR_X + (i + 1) * boxW + 0.8, y: 1023, 'font-size': 29, 'text-anchor': 'middle'}, barRoot);
  
  
  t.textContent = s;
});
</script>
</body>
</html>
